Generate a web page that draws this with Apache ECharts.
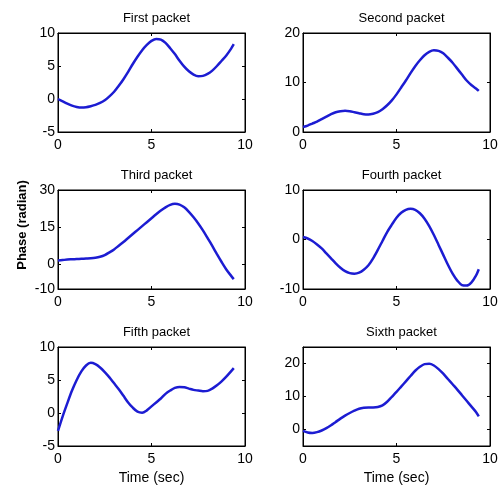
<!DOCTYPE html>
<html>
<head>
<meta charset="utf-8">
<script src="https://cdn.jsdelivr.net/npm/echarts@6/dist/echarts.min.js"></script>
<style>
  html, body { margin: 0; padding: 0; background: #fff; }
  #chart { width: 502px; height: 489px; }
</style>
</head>
<body>
<div id="chart"></div>
<script>
// time samples (sec)
var time = [0, 0.25, 0.5, 0.75, 1, 1.25, 1.5, 1.75, 2, 2.25, 2.5, 2.75, 3, 3.25, 3.5, 3.75, 4, 4.25, 4.5, 4.75,
    5, 5.25, 5.5, 5.75, 6, 6.25, 6.5, 6.75, 7, 7.25, 7.5, 7.75, 8, 8.25, 8.5, 8.75, 9, 9.25, 9.4]

// phase (radian) per packet
var first = [0, -0.35, -0.7, -1.0, -1.2, -1.3, -1.25, -1.1, -0.9, -0.6, -0.2, 0.4, 1.1, 2.0, 3.0, 4.1, 5.3, 6.4, 7.4, 8.2,
    8.8, 9.1, 9.0, 8.5, 7.7, 6.8, 5.8, 4.9, 4.2, 3.7, 3.45, 3.5, 3.8, 4.3, 5.0, 5.8, 6.6, 7.6, 8.3]
var second = [1.0, 1.3, 1.7, 2.1, 2.6, 3.1, 3.6, 4.0, 4.2, 4.3, 4.2, 4.0, 3.8, 3.6, 3.55, 3.7, 4.0, 4.6, 5.4, 6.4,
    7.6, 9.0, 10.4, 11.9, 13.3, 14.5, 15.5, 16.2, 16.5, 16.4, 15.9, 15.0, 14.0, 12.8, 11.6, 10.4, 9.5, 8.8, 8.3]
var third = [1.5, 1.7, 1.9, 2.0, 2.1, 2.2, 2.3, 2.4, 2.6, 3.0, 3.7, 4.8, 6.0, 7.5, 9.0, 10.6, 12.2, 13.8, 15.4, 17.0,
    18.6, 20.2, 21.7, 23.0, 24.0, 24.4, 24.1, 23.0, 21.2, 19.0, 16.5, 13.7, 10.6, 7.4, 4.1, 0.9, -2.1, -4.6, -6.0]
var fourth = [0.5, 0.2, -0.3, -1.0, -1.8, -2.8, -3.8, -4.8, -5.7, -6.4, -6.8, -6.9, -6.7, -6.1, -5.2, -3.8, -2.1, -0.3, 1.5, 3.0,
    4.4, 5.4, 6.0, 6.2, 6.0, 5.3, 4.2, 2.7, 0.9, -1.1, -3.1, -5.1, -6.9, -8.3, -9.2, -9.3, -8.7, -7.3, -6.0]
var fifth = [-2.7, -0.5, 1.5, 3.4, 5.0, 6.3, 7.2, 7.6, 7.4, 6.9, 6.2, 5.4, 4.5, 3.6, 2.6, 1.6, 0.8, 0.2, 0.05, 0.4,
    1.0, 1.6, 2.2, 2.9, 3.4, 3.8, 3.95, 3.9, 3.7, 3.5, 3.4, 3.3, 3.35, 3.7, 4.2, 4.8, 5.5, 6.3, 6.8]
var sixth = [-0.4, -0.9, -1.05, -0.8, -0.3, 0.4, 1.3, 2.3, 3.3, 4.2, 5.0, 5.7, 6.3, 6.6, 6.7, 6.7, 6.8, 7.3, 8.4, 9.9,
    11.4, 13.0, 14.6, 16.2, 17.8, 19.0, 19.8, 19.9, 19.4, 18.3, 16.9, 15.3, 13.7, 12.1, 10.4, 8.7, 7.0, 5.3, 4.0]

var titles = ['First packet', 'Second packet', 'Third packet', 'Fourth packet', 'Fifth packet', 'Sixth packet']
var seriesData = [first, second, third, fourth, fifth, sixth]
// y axis ranges and tick labels for each panel
var yMin = [-5, 0, -10, -10, -5, -5]
var yMax = [10, 20, 30, 10, 10, 25]
var yTicks = [[-5, 0, 5, 10], [0, 10, 20], [-10, 0, 15, 30], [-10, 0, 10], [-5, 0, 5, 10], [0, 10, 20]]

var fontFamily = 'Liberation Sans, Arial, sans-serif'
var lefts = [58, 303]
var tops = [33, 190, 347]
var plotW = 187
var plotH = 99

var grid = [], xAxis = [], yAxis = [], series = [], title = []

seriesData.forEach(function(vals, i) {
    var col = i % 2
    var row = Math.floor(i / 2)
    grid.push({
        left: lefts[col],
        top: tops[row],
        width: plotW,
        height: plotH,
        show: true,
        borderColor: '#000',
        borderWidth: 1,
        backgroundColor: '#fff'
    })
    title.push({
        text: titles[i],
        left: lefts[col] + plotW / 2,
        top: tops[row] - 26,
        textAlign: 'center',
        textStyle: { fontFamily: fontFamily, fontSize: 13, fontWeight: 'normal', color: '#000' }
    })
    // bottom x axis with labels
    xAxis.push({
        type: 'value',
        gridIndex: i,
        min: 0,
        max: 10,
        interval: 5,
        position: 'bottom',
        axisLine: { show: true, onZero: false, lineStyle: { color: '#000', width: 1 } },
        axisTick: { show: true, inside: true, length: 3, lineStyle: { color: '#000' } },
        axisLabel: { show: true, margin: 6, fontFamily: fontFamily, fontSize: 14, color: '#000' },
        splitLine: { show: false },
        name: row === 2 ? 'Time (sec)' : '',
        nameLocation: 'middle',
        nameGap: 25,
        nameTextStyle: { fontFamily: fontFamily, fontSize: 14, color: '#000' }
    })
    // top x axis, ticks only
    xAxis.push({
        type: 'value',
        gridIndex: i,
        min: 0,
        max: 10,
        interval: 5,
        position: 'top',
        axisLine: { show: true, onZero: false, lineStyle: { color: '#000', width: 1 } },
        axisTick: { show: true, inside: true, length: 3, lineStyle: { color: '#000' } },
        axisLabel: { show: false },
        splitLine: { show: false }
    })
    var yBase = {
        type: 'value',
        gridIndex: i,
        min: yMin[i],
        max: yMax[i],
        axisLine: { show: true, onZero: false, lineStyle: { color: '#000', width: 1 } },
        splitLine: { show: false }
    }
    yAxis.push(Object.assign({}, yBase, {
        position: 'left',
        axisTick: { show: true, inside: true, length: 3, customValues: yTicks[i], lineStyle: { color: '#000' } },
        axisLabel: { show: true, margin: 3, customValues: yTicks[i], fontFamily: fontFamily, fontSize: 14, color: '#000' }
    }))
    yAxis.push(Object.assign({}, yBase, {
        position: 'right',
        axisTick: { show: true, inside: true, length: 3, customValues: yTicks[i], lineStyle: { color: '#000' } },
        axisLabel: { show: false }
    }))
    series.push({
        type: 'line',
        xAxisIndex: i * 2,
        yAxisIndex: i * 2,
        data: time.map(function(t, k) { return [t, vals[k]] }),
        smooth: 0.3,
        showSymbol: false,
        symbol: 'none',
        lineStyle: { color: '#1c1cd2', width: 2.5 },
        animation: false
    })
})

var option = {
    animation: false,
    backgroundColor: '#fff',
    title: title,
    grid: grid,
    xAxis: xAxis,
    yAxis: yAxis,
    series: series,
    graphic: [{
        type: 'text',
        x: 22,
        y: 225,
        rotation: Math.PI / 2,
        style: {
            text: 'Phase (radian)',
            fontFamily: fontFamily,
            fontSize: 13,
            fontWeight: 'bold',
            fill: '#000',
            align: 'center',
            verticalAlign: 'middle'
        }
    }]
}

var myChart = echarts.init(document.getElementById('chart'))
myChart.setOption(option)
</script>
</body>
</html>
